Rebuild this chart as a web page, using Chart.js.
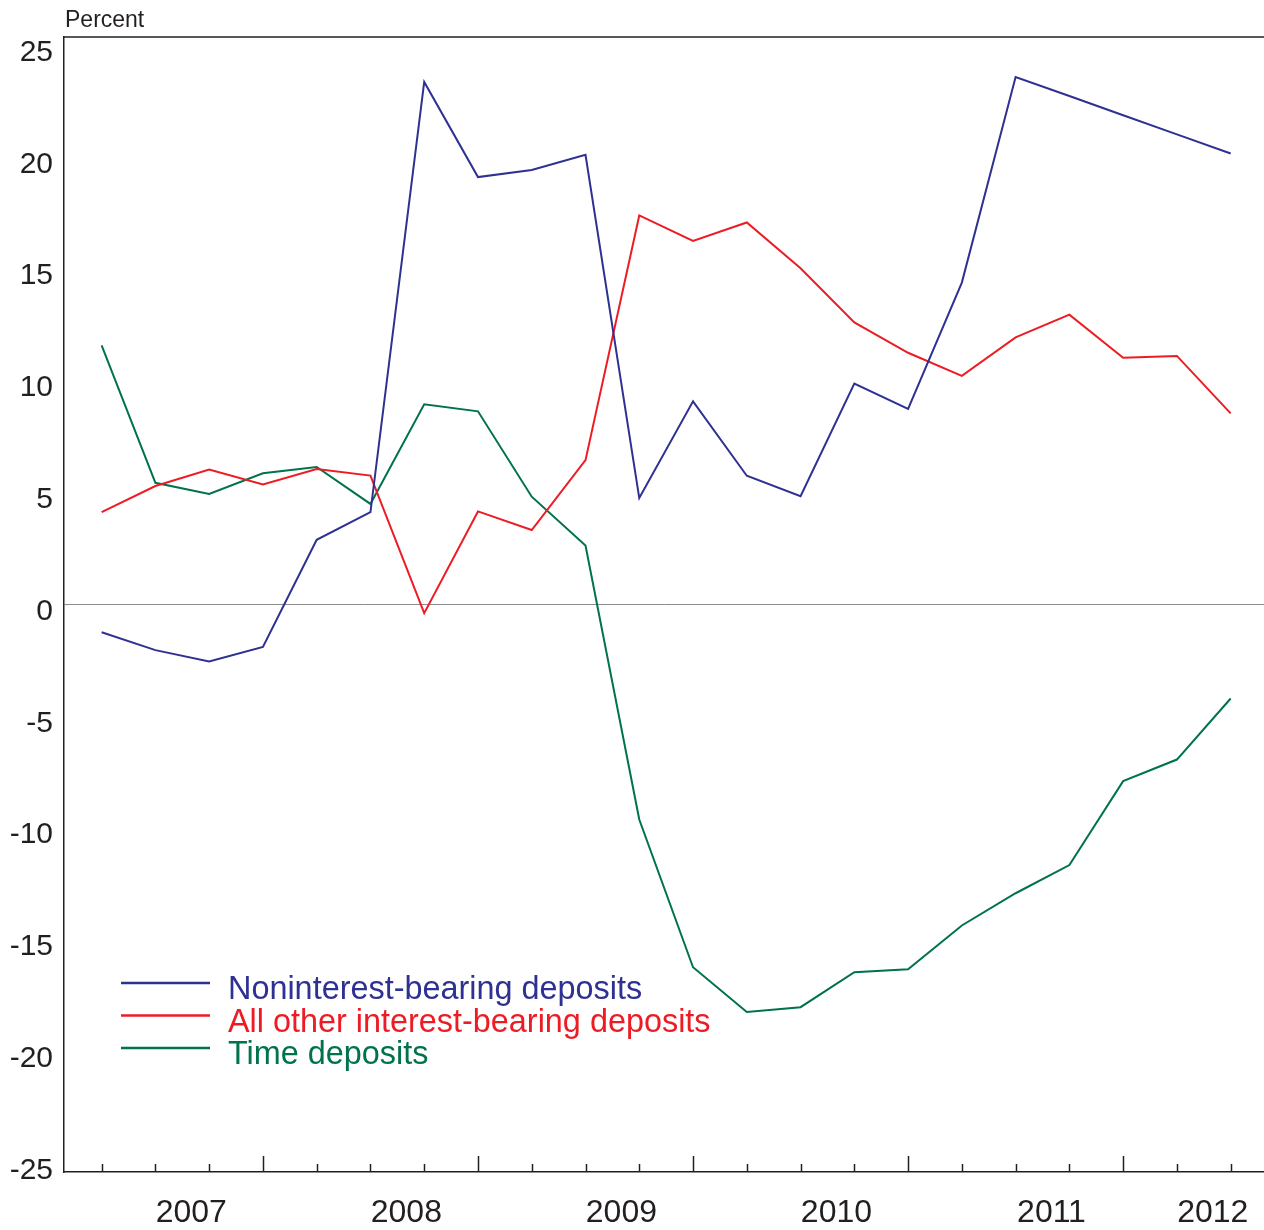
<!DOCTYPE html>
<html>
<head>
<meta charset="utf-8">
<script src="https://cdn.jsdelivr.net/npm/chart.js@4/dist/chart.umd.min.js"></script>
<style>
  html, body { margin: 0; padding: 0; background: #fff; }
  #wrap { width: 1264px; height: 1230px; }
</style>
</head>
<body>
<div id="wrap"><canvas id="depositsChart"></canvas></div>
<script>
// quarterly growth, percent
const quarters = [
  "2007Q1", "2007Q2", "2007Q3", "2007Q4",
  "2008Q1", "2008Q2", "2008Q3", "2008Q4",
  "2009Q1", "2009Q2", "2009Q3", "2009Q4",
  "2010Q1", "2010Q2", "2010Q3", "2010Q4",
  "2011Q1", "2011Q2", "2011Q3", "2011Q4",
  "2012Q1", "2012Q2"
];
const noninterest = [-1.22, -2.01, -2.51, -1.87, 2.85, 4.07, 23.02, 18.83, 19.14, 19.81, 4.69,
  8.95, 5.67, 4.77, 9.73, 8.62, 14.18, 23.24, 22.40, 21.55, 20.71, 19.87];
const otherInterest = [4.07, 5.22, 5.95, 5.29, 5.97, 5.68, -0.38, 4.10, 3.28, 6.36, 17.14,
  16.02, 16.83, 14.81, 12.43, 11.09, 10.07, 11.77, 12.77, 10.87, 10.95, 8.42];
const timeDeposits = [11.42, 5.36, 4.87, 5.78, 6.06, 4.43, 8.82, 8.51, 4.75, 2.60, -9.47,
  -15.98, -17.95, -17.74, -16.20, -16.07, -14.14, -12.72, -11.48, -7.78, -6.83, -4.14];
const seriesNames = ["Noninterest-bearing deposits", "All other interest-bearing deposits", "Time deposits"];
const seriesColors = ["#2e3192", "#ed1c24", "#00734a"];
const yTicks = [-25, -20, -15, -10, -5, 0, 5, 10, 15, 20, 25];

const FONT = "'Liberation Sans', Arial, Helvetica, sans-serif";
const INK = "#231f20";

const toPoints = arr => arr.map((v, i) => ({ x: i, y: v }));

// quarter ticks along the bottom, axis labels, unit label, legend, frame top
const decorations = {
  id: "decorations",
  afterDraw(chart) {
    const ctx = chart.ctx;
    const xs = chart.scales.x;
    const ys = chart.scales.y;
    const area = chart.chartArea;
    ctx.save();

    // top frame line
    ctx.strokeStyle = INK;
    ctx.lineWidth = 1.5;
    ctx.beginPath();
    ctx.moveTo(area.left, area.top);
    ctx.lineTo(area.right, area.top);
    ctx.stroke();

    // quarter tick marks, longer at year end
    quarters.forEach((q, i) => {
      const px = Math.round(xs.getPixelForValue(i)) + 0.5;
      const len = q.endsWith("Q4") ? 16 : 8;
      ctx.beginPath();
      ctx.moveTo(px, area.bottom);
      ctx.lineTo(px, area.bottom - len);
      ctx.stroke();
    });

    // value labels, set a little tighter than the grid spacing
    const zero = ys.getPixelForValue(0);
    ctx.fillStyle = INK;
    ctx.font = "30px " + FONT;
    ctx.textAlign = "right";
    ctx.textBaseline = "middle";
    yTicks.forEach(v => {
      const py = ys.getPixelForValue(v);
      ctx.fillText(String(v), area.left - 11, zero + (py - zero) * 0.985 + 7);
    });

    // year labels centred under their quarters
    const years = [...new Set(quarters.map(q => q.slice(0, 4)))];
    ctx.font = "32px " + FONT;
    ctx.textAlign = "center";
    ctx.textBaseline = "alphabetic";
    years.forEach(y => {
      const idx = quarters.map((q, i) => q.startsWith(y) ? i : -1).filter(i => i >= 0);
      const mid = idx.reduce((a, b) => a + b, 0) / idx.length;
      ctx.fillText(y, xs.getPixelForValue(mid) + 9, area.bottom + 50);
    });

    // unit label
    ctx.font = "23px " + FONT;
    ctx.textAlign = "left";
    ctx.fillText("Percent", area.left + 1, 27);

    // legend
    ctx.font = "32.4px " + FONT;
    seriesNames.forEach((name, k) => {
      const ly = 983 + k * 32.5;
      ctx.strokeStyle = seriesColors[k];
      ctx.lineWidth = 2.5;
      ctx.beginPath();
      ctx.moveTo(121, ly);
      ctx.lineTo(210, ly);
      ctx.stroke();
      ctx.fillStyle = seriesColors[k];
      ctx.fillText(name, 228, ly + 16);
    });
    ctx.restore();
  }
};

new Chart(document.getElementById("depositsChart"), {
  type: "line",
  data: {
    datasets: [noninterest, otherInterest, timeDeposits].map((arr, k) => ({
      label: seriesNames[k],
      data: toPoints(arr),
      borderColor: seriesColors[k],
      borderWidth: 2,
      pointRadius: 0,
      tension: 0,
      fill: false
    }))
  },
  options: {
    responsive: true,
    maintainAspectRatio: false,
    animation: false,
    layout: { padding: { top: 37, right: 0, left: 0, bottom: 0 } },
    plugins: {
      legend: { display: false },
      tooltip: { enabled: false }
    },
    scales: {
      x: {
        type: "linear",
        min: -0.7,
        max: quarters.length - 1 + 0.62,
        ticks: { display: false },
        grid: { display: false, drawTicks: false },
        border: { display: true, color: INK, width: 1.5 },
        afterFit: s => { s.height = 58; }
      },
      y: {
        min: yTicks[0],
        max: yTicks[yTicks.length - 1],
        afterBuildTicks: s => { s.ticks = yTicks.map(v => ({ value: v })); },
        ticks: { display: false },
        grid: {
          drawTicks: false,
          lineWidth: 1,
          color: c => c.tick && c.tick.value === 0 ? "#8c8c8c" : "rgba(0,0,0,0)"
        },
        border: { display: true, color: INK, width: 1.5 },
        afterFit: s => { s.width = 64; }
      }
    }
  },
  plugins: [decorations]
});
</script>
</body>
</html>
